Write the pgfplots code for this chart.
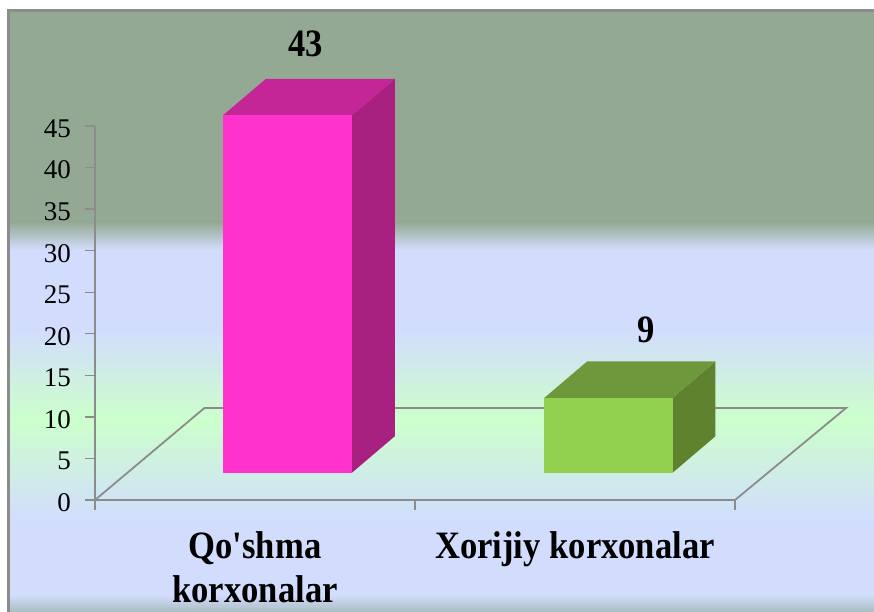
\documentclass[border=0pt]{standalone}
\usepackage{fontspec}
\setmainfont{Liberation Serif}
\newfontfamily\plainserif{Liberation Serif}
\usepackage{graphicx}
\usepackage{pgfplots}
\pgfplotsset{compat=1.18}

\definecolor{sage}{RGB}{148,169,148}
\definecolor{paleblue}{RGB}{210,221,253}
\definecolor{palegreen}{RGB}{204,255,204}
\definecolor{edgegray}{RGB}{140,140,140}
\definecolor{pinkfront}{RGB}{255,51,204}
\definecolor{pinktop}{RGB}{196,38,152}
\definecolor{pinkside}{RGB}{168,32,128}
\definecolor{greenfront}{RGB}{146,208,80}
\definecolor{greentop}{RGB}{110,152,60}
\definecolor{greenside}{RGB}{94,130,46}
\definecolor{bottomgray}{RGB}{170,188,194}

\newcommand{\boldlab}[1]{\scalebox{1}[1.12]{\plainserif\fontsize{34.6}{38}\selectfont\bfseries #1}}

\begin{document}
\begin{tikzpicture}[x=1pt,y=1pt]
\useasboundingbox (0,0) rectangle (874,612);
% backdrop, top to bottom
\fill[white] (0,0) rectangle (874,612);
\fill[sage] (8,390) rectangle (874,602);
\shade[top color=sage,bottom color=paleblue] (8,362) rectangle (874,390.2);
\fill[paleblue] (8,282) rectangle (874,362.2);
\shade[top color=paleblue,bottom color=palegreen] (8,192) rectangle (874,282.2);
\shade[top color=palegreen,bottom color=paleblue] (8,92) rectangle (874,192.2);
\fill[paleblue] (8,17) rectangle (874,92.2);
\shade[top color=paleblue,bottom color=bottomgray] (8,0) rectangle (874,17.2);
\draw[edgegray,line width=2.8pt] (8.5,0) -- (8.5,601.5) -- (874,601.5);

\begin{axis}[
    at={(95pt,112pt)}, anchor=south west,
    scale only axis, width=640pt, height=374pt,
    xmin=0, xmax=2, ymin=0, ymax=45,
    clip=false,
    axis lines=left,
    axis line style={-, draw=edgegray, line width=2pt},
    xtick={0,1,2}, xticklabels={},
    ytick={0,5,...,45},
    major tick style={draw=edgegray, line width=1.4pt},
    tick align=outside,
    major tick length=10pt,
    /pgf/number format/assume math mode=true,
    yticklabel style={font=\fontsize{27}{30}\selectfont, inner sep=0pt, xshift=-14pt, yshift=-2.5pt},
    extra x ticks={0.5,1.5},
    extra x tick labels={{\boldlab{\begin{tabular}[t]{@{}c@{}}Qo'shma\\[1pt]korxonalar\end{tabular}}},{\boldlab{\begin{tabular}[t]{@{}c@{}}Xorijiy korxonalar\end{tabular}}}},
    extra x tick style={major tick length=0pt, xticklabel style={anchor=north, inner sep=0pt, yshift=-29pt}},
]
% floor
\addplot[draw=edgegray, line width=1.8pt] coordinates {(0,0) (0.342,11.07) (2.347,11.07) (2,0)};

% Qo'shma korxonalar = 43, raised onto the floor
\addplot[fill=pinkside, draw=none, yshift=27.3pt] coordinates {(0.803,0) (0.937,4.39) (0.937,47.39) (0.803,43)} -- cycle;
\addplot[fill=pinktop, draw=none, yshift=27.3pt] coordinates {(0.400,43) (0.803,43) (0.937,47.39) (0.534,47.39)} -- cycle;
\addplot[fill=pinkfront, draw=none, yshift=27.3pt] coordinates {(0.400,0) (0.803,0) (0.803,43) (0.400,43)} -- cycle;

% Xorijiy korxonalar = 9
\addplot[fill=greenside, draw=none, yshift=27.3pt] coordinates {(1.805,0) (1.939,4.39) (1.939,13.39) (1.805,9)} -- cycle;
\addplot[fill=greentop, draw=none, yshift=27.3pt] coordinates {(1.404,9) (1.805,9) (1.939,13.39) (1.538,13.39)} -- cycle;
\addplot[fill=greenfront, draw=none, yshift=27.3pt] coordinates {(1.404,0) (1.805,0) (1.805,9) (1.404,9)} -- cycle;

\node[anchor=base, inner sep=0pt, yshift=85.7pt] at (axis cs:0.659,43) {\boldlab{43}};
\node[anchor=base, inner sep=0pt, yshift=83pt] at (axis cs:1.722,9) {\boldlab{9}};
\end{axis}
\end{tikzpicture}
\end{document}
